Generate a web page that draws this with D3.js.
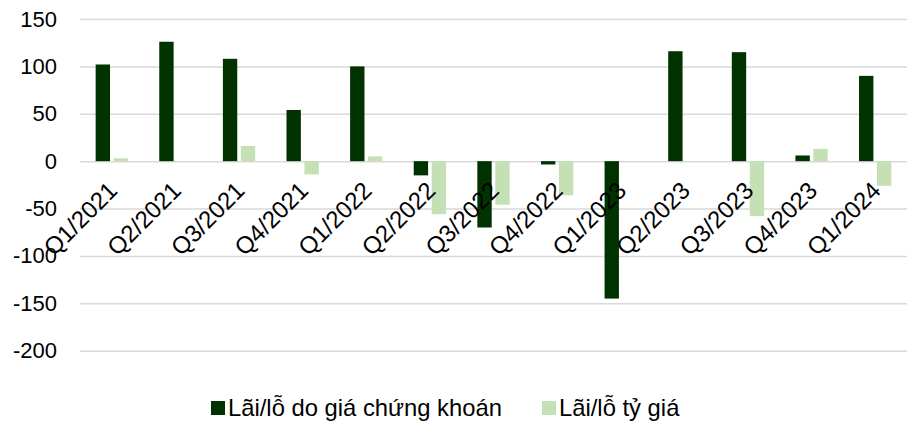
<!DOCTYPE html>
<html>
<head>
<meta charset="utf-8">
<script src="https://cdn.jsdelivr.net/npm/d3@7"></script>
<style>
  body { margin: 0; background: #fff; }
  text { font-family: "Liberation Sans", Arial, sans-serif; fill: #000; }
</style>
</head>
<body>
<div id="svganchor"></div>
<script>
let width = 913, height = 421;

let margin = ({top: 19, right: 6, bottom: 70, left: 80});

// data
let quarters = ["Q1/2021", "Q2/2021", "Q3/2021", "Q4/2021", "Q1/2022", "Q2/2022", "Q3/2022",
    "Q4/2022", "Q1/2023", "Q2/2023", "Q3/2023", "Q4/2023", "Q1/2024"];
let stockGain = [102, 126, 108, 54, 100, -15, -70, -3.5, -145, 116, 115, 6, 90];
let fxGain = [3, 0, 16, -14, 5, -56, -46, -36, 0, 0, -58, 13, -26];
let seriesNames = ["Lãi/lỗ do giá chứng khoán", "Lãi/lỗ tỷ giá"];
let yTicks = [150, 100, 50, 0, -50, -100, -150, -200];

let colors = ["#003300", "#c5e0b4"];

let svg = d3.select("#svganchor")
    .append("svg")
    .attr("width", width)
    .attr("height", height);

let xScale = d3.scaleBand()
    .domain(quarters)
    .range([margin.left, width - margin.right]);

let xInner = d3.scaleBand()
    .domain([0, 1])
    .range([xScale.bandwidth() * 0.246, xScale.bandwidth() * 0.754])
    .paddingInner(0.2);

let yScale = d3.scaleLinear()
    .domain([-200, 150])
    .range([350.7, margin.top]);

// gridlines
let yAxis = d3.axisLeft(yScale)
    .tickValues(yTicks)
    .tickFormat(function(d) { return String(d); })  // plain hyphen, like the original
    .tickSizeInner(-(width - margin.left - margin.right))
    .tickSizeOuter(0)
    .tickPadding(23);

let gY = svg.append("g")
    .attr("class", "y axis")
    .attr("transform", `translate(${margin.left},0)`)
    .call(yAxis);

gY.select(".domain").remove();
gY.selectAll("line")
    .attr("stroke", "#d9d9d9")
    .attr("stroke-width", 1.5);
gY.selectAll("text")
    .attr("font-size", "22px")
    .attr("font-family", "Liberation Sans, Arial, sans-serif")
    .attr("fill", "#000");

let rows = quarters.map(function(q, i) {
    return {q: q, values: [stockGain[i], fxGain[i]]};
});

let groups = svg.selectAll(".group")
    .data(rows)
    .enter()
    .append("g")
    .attr("class", "group")
    .attr("transform", function(d) { return `translate(${xScale(d.q)},0)`; });

groups.selectAll("rect")
    .data(function(d) { return d.values.map(function(v, k) { return {k: k, v: v}; }); })
    .enter()
    .append("rect")
    .attr("x", function(d) { return xInner(d.k); })
    .attr("width", xInner.bandwidth())
    .attr("y", function(d) { return yScale(Math.max(0, d.v)); })
    .attr("height", function(d) { return Math.abs(yScale(d.v) - yScale(0)); })
    .attr("fill", function(d) { return colors[d.k]; });

// category labels, rotated, on top of bars
svg.selectAll(".xlabel")
    .data(quarters)
    .enter()
    .append("text")
    .attr("class", "xlabel")
    .attr("text-anchor", "end")
    .attr("font-size", "24px")
    .attr("transform", function(d) {
        let cx = xScale(d) + xScale.bandwidth() / 2;
        return `translate(${cx + 7},${192}) rotate(-45)`;
    })
    .text(function(d) { return d; });

// legend
let legendX = [211, 542];
let legend = svg.selectAll(".legend")
    .data(seriesNames)
    .enter()
    .append("g")
    .attr("class", "legend")
    .attr("transform", function(d, i) { return `translate(${legendX[i]},401)`; });

legend.append("rect")
    .attr("width", 14)
    .attr("height", 14)
    .attr("fill", function(d, i) { return colors[i]; });

legend.append("text")
    .attr("x", 17)
    .attr("y", 15)
    .attr("font-size", "23.8px")
    .text(function(d) { return d; });
</script>
</body>
</html>
